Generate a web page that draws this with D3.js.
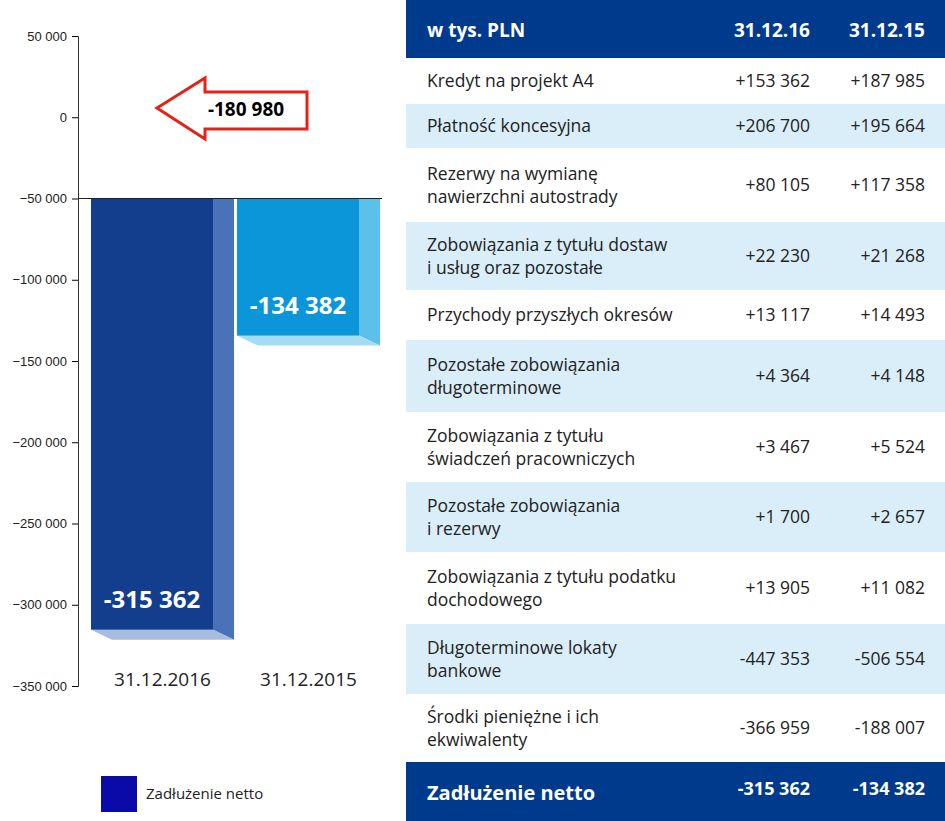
<!DOCTYPE html><html><head><meta charset="utf-8"><script src="https://cdn.jsdelivr.net/npm/d3@7/dist/d3.min.js"></script>
<style>body{margin:0;background:#fff}svg{font-family:"Open Sans",sans-serif}</style></head><body>
<script>
const categories=["31.12.2016","31.12.2015"];
const netDebt=[-315362,-134382];
const barLabels=["-315 362","-134 382"];
const change="-180 980";
const yTicks=[50000,0,-50000,-100000,-150000,-200000,-250000,-300000,-350000];
const tableHeader=["w tys. PLN","31.12.16","31.12.15"];
const rowNames=[["Kredyt na projekt A4"],["Płatność koncesyjna"],["Rezerwy na wymianę","nawierzchni autostrady"],["Zobowiązania z tytułu dostaw","i usług oraz pozostałe"],["Przychody przyszłych okresów"],["Pozostałe zobowiązania","długoterminowe"],["Zobowiązania z tytułu","świadczeń pracowniczych"],["Pozostałe zobowiązania","i rezerwy"],["Zobowiązania z tytułu podatku","dochodowego"],["Długoterminowe lokaty","bankowe"],["Środki pieniężne i ich","ekwiwalenty"]];
const col16=["+153 362","+206 700","+80 105","+22 230","+13 117","+4 364","+3 467","+1 700","+13 905","-447 353","-366 959"];
const col15=["+187 985","+195 664","+117 358","+21 268","+14 493","+4 148","+5 524","+2 657","+11 082","-506 554","-188 007"];
const footer=["Zadłużenie netto","-315 362","-134 382"];
const rowH=[46,44,74,68,50,72,70,70,72,70,68];

const svg=d3.select("body").append("svg").attr("width",945).attr("height",821);
const y=d3.scaleLinear().domain([50000,-350000]).range([36,686]);
const x=d3.scaleBand().domain(categories).range([91,380]).paddingInner(0.02);
const ax=svg.append("g").attr("transform","translate(78,0)").call(d3.axisLeft(y).tickValues(yTicks).tickSize(6).tickFormat(d=>d3.format(",")(d).replace(/,/g," ")));
ax.select(".domain").attr("stroke","#333");
ax.selectAll("text").attr("font-size",13).attr("fill","#222").attr("dx",-2);
const base=-50000,depth=21,drop=10;
const front=["#133e8e","#0a96d8"],side=["#4a72b8","#5bc0ea"],bottom=["#a8bce0","#a5dcf3"];
categories.forEach((c,i)=>{
 const w=x.bandwidth()-depth,x0=x(c),y0=y(base),y1=y(netDebt[i]);
 svg.append("path").attr("d",`M${x0+w},${y0}L${x0+w+depth},${y0}L${x0+w+depth},${y1+drop}L${x0+w},${y1}Z`).attr("fill",side[i]);
 svg.append("path").attr("d",`M${x0},${y1}L${x0+w},${y1}L${x0+w+depth},${y1+drop}L${x0+depth},${y1+drop}Z`).attr("fill",bottom[i]);
 svg.append("rect").attr("x",x0).attr("y",y0).attr("width",w).attr("height",y1-y0).attr("fill",front[i]);
 svg.append("text").attr("x",x0+w/2).attr("y",y1-22).attr("text-anchor","middle").attr("fill","#fff").attr("font-size",24).attr("font-weight","bold").text(barLabels[i]);
 svg.append("text").attr("x",x0+w/2+depth/2).attr("y",686).attr("text-anchor","middle").attr("font-size",19).attr("fill","#222").text(c);
});
svg.append("line").attr("x1",78).attr("x2",382).attr("y1",y(base)).attr("y2",y(base)).attr("stroke","#222");
svg.append("path").attr("d","M157,108L205,78L205,92L307,92L307,129L205,129L205,139Z").attr("fill","#fff").attr("stroke","#e2231a").attr("stroke-width",3);
svg.append("text").attr("x",246).attr("y",116).attr("text-anchor","middle").attr("font-size",19).attr("font-weight","bold").text(change);
svg.append("rect").attr("x",101).attr("y",776).attr("width",36).attr("height",36).attr("fill","#0a0aa8");
svg.append("text").attr("x",146).attr("y",799).attr("font-size",15).attr("fill","#222").text("Zadłużenie netto");
const tx=406,tw=539,c1=810,c2=925;
svg.append("rect").attr("x",tx).attr("y",0).attr("width",tw).attr("height",58).attr("fill","#003a8c");
svg.append("text").attr("x",427).attr("y",37).attr("fill","#fff").attr("font-size",19).attr("font-weight","bold").text(tableHeader[0]);
[[c1,1],[c2,2]].forEach(([cx,k])=>svg.append("text").attr("x",cx).attr("y",37).attr("text-anchor","end").attr("fill","#fff").attr("font-size",19).attr("font-weight","bold").text(tableHeader[k]));
let ty=58;
rowNames.forEach((r,i)=>{
 const h=rowH[i];
 svg.append("rect").attr("x",tx).attr("y",ty).attr("width",tw).attr("height",h).attr("fill",i%2?"#d9eef9":"#fff");
 const mid=ty+h/2;
 r.forEach((l,j)=>svg.append("text").attr("x",427).attr("y",mid+6+(j-(r.length-1)/2)*23).attr("font-size",17.5).attr("fill","#222").text(l));
 svg.append("text").attr("x",c1).attr("y",mid+6).attr("text-anchor","end").attr("font-size",17.5).attr("fill","#222").text(col16[i]);
 svg.append("text").attr("x",c2).attr("y",mid+6).attr("text-anchor","end").attr("font-size",17.5).attr("fill","#222").text(col15[i]);
 ty+=h;
});
svg.append("rect").attr("x",tx).attr("y",ty).attr("width",tw).attr("height",821-ty).attr("fill","#003a8c");
svg.append("text").attr("x",427).attr("y",ty+38).attr("fill","#fff").attr("font-size",20).attr("font-weight","bold").text(footer[0]);
svg.append("text").attr("x",c1).attr("y",ty+33).attr("text-anchor","end").attr("fill","#fff").attr("font-size",18).attr("font-weight","bold").text(footer[1]);
svg.append("text").attr("x",c2).attr("y",ty+33).attr("text-anchor","end").attr("fill","#fff").attr("font-size",18).attr("font-weight","bold").text(footer[2]);
</script></body></html>
